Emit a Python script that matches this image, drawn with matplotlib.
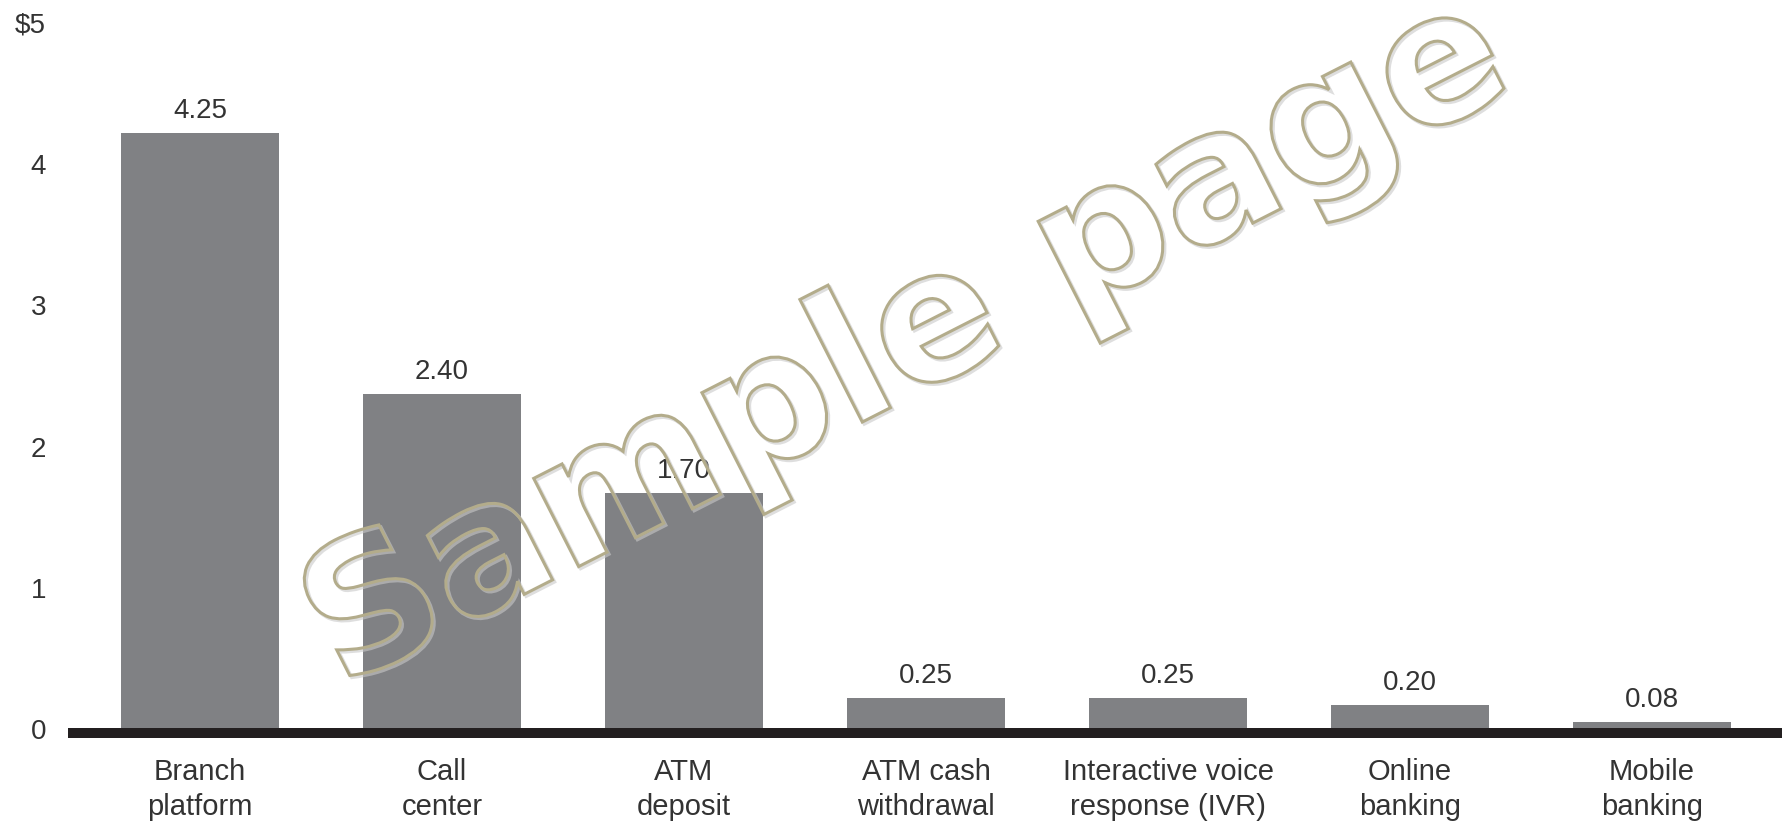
import matplotlib
matplotlib.use("Agg")
import matplotlib.pyplot as plt
from matplotlib.textpath import TextPath
from matplotlib.font_manager import FontProperties
from matplotlib.patches import PathPatch
from matplotlib.transforms import Affine2D, IdentityTransform, ScaledTranslation

# ---- data ----
categories = ["Branch\nplatform", "Call\ncenter", "ATM\ndeposit", "ATM cash\nwithdrawal",
              "Interactive voice\nresponse (IVR)", "Online\nbanking", "Mobile\nbanking"]
values = [4.25, 2.40, 1.70, 0.25, 0.25, 0.20, 0.08]
value_labels = ["4.25", "2.40", "1.70", "0.25", "0.25", "0.20", "0.08"]
y_ticks = [0, 1, 2, 3, 4, 5]
y_tick_labels = ["0", "1", "2", "3", "4", "$5"]
watermark = "Sample page"

W, H, DPI = 1782, 822, 100
fig = plt.figure(figsize=(W / DPI, H / DPI), dpi=DPI)
fig.patch.set_facecolor("white")

regular = ["Liberation Sans", "DejaVu Sans"]
txt_color = "#333333"

ax = fig.add_axes([68 / W, 89 / H, 1 - 68 / W, 733 / H])
x = list(range(len(values)))
ax.bar(x, values, width=0.653, color="#808184", zorder=2)
ax.set_xlim(-0.5455, 6.537)
ax.set_ylim(0, 5.19)

ax.axhline(0, color="#231f20", lw=7.2, zorder=3, clip_on=False, solid_capstyle="butt")

for xi, v, lab in zip(x, values, value_labels):
    ax.annotate(lab, (xi, v), xytext=(0, 10.8), textcoords="offset points",
                ha="center", va="baseline", fontsize=20, family=regular, color=txt_color)

for s in ax.spines.values():
    s.set_visible(False)

ax.set_xticks(x)
ax.set_xticklabels(categories, family=regular, fontsize=21, color=txt_color, linespacing=1.33)
ax.tick_params(axis="x", length=0, pad=18)
ax.set_yticks(y_ticks)
ax.set_yticklabels(y_tick_labels, family=regular, fontsize=20, color=txt_color)
ax.tick_params(axis="y", length=0, pad=15.8)
for lbl in ax.get_yticklabels():
    lbl.set_transform(lbl.get_transform() + ScaledTranslation(0, 4 / DPI, fig.dpi_scale_trans))

# ---- watermark ----
tp = TextPath((0, 0), watermark, size=181,
              prop=FontProperties(family="DejaVu Sans", weight="bold"))
ext = tp.get_extents()
cx, cy = (ext.x0 + ext.x1) / 2, (ext.y0 + ext.y1) / 2
tr = Affine2D().translate(-cx, -cy).rotate_deg(27).translate(909, H - 343)
path = tr.transform_path(tp)
shadow = Affine2D().translate(2, -2).transform_path(path)
fig.patches.append(PathPatch(shadow, transform=IdentityTransform(), facecolor="none",
                             edgecolor="#c8c8c8", lw=2.4, alpha=0.6, zorder=9))
fig.patches.append(PathPatch(path, transform=IdentityTransform(), facecolor="none",
                             edgecolor="#b3ac8b", lw=2.2, zorder=10))

fig.savefig("out.png", dpi=DPI, facecolor="white")
